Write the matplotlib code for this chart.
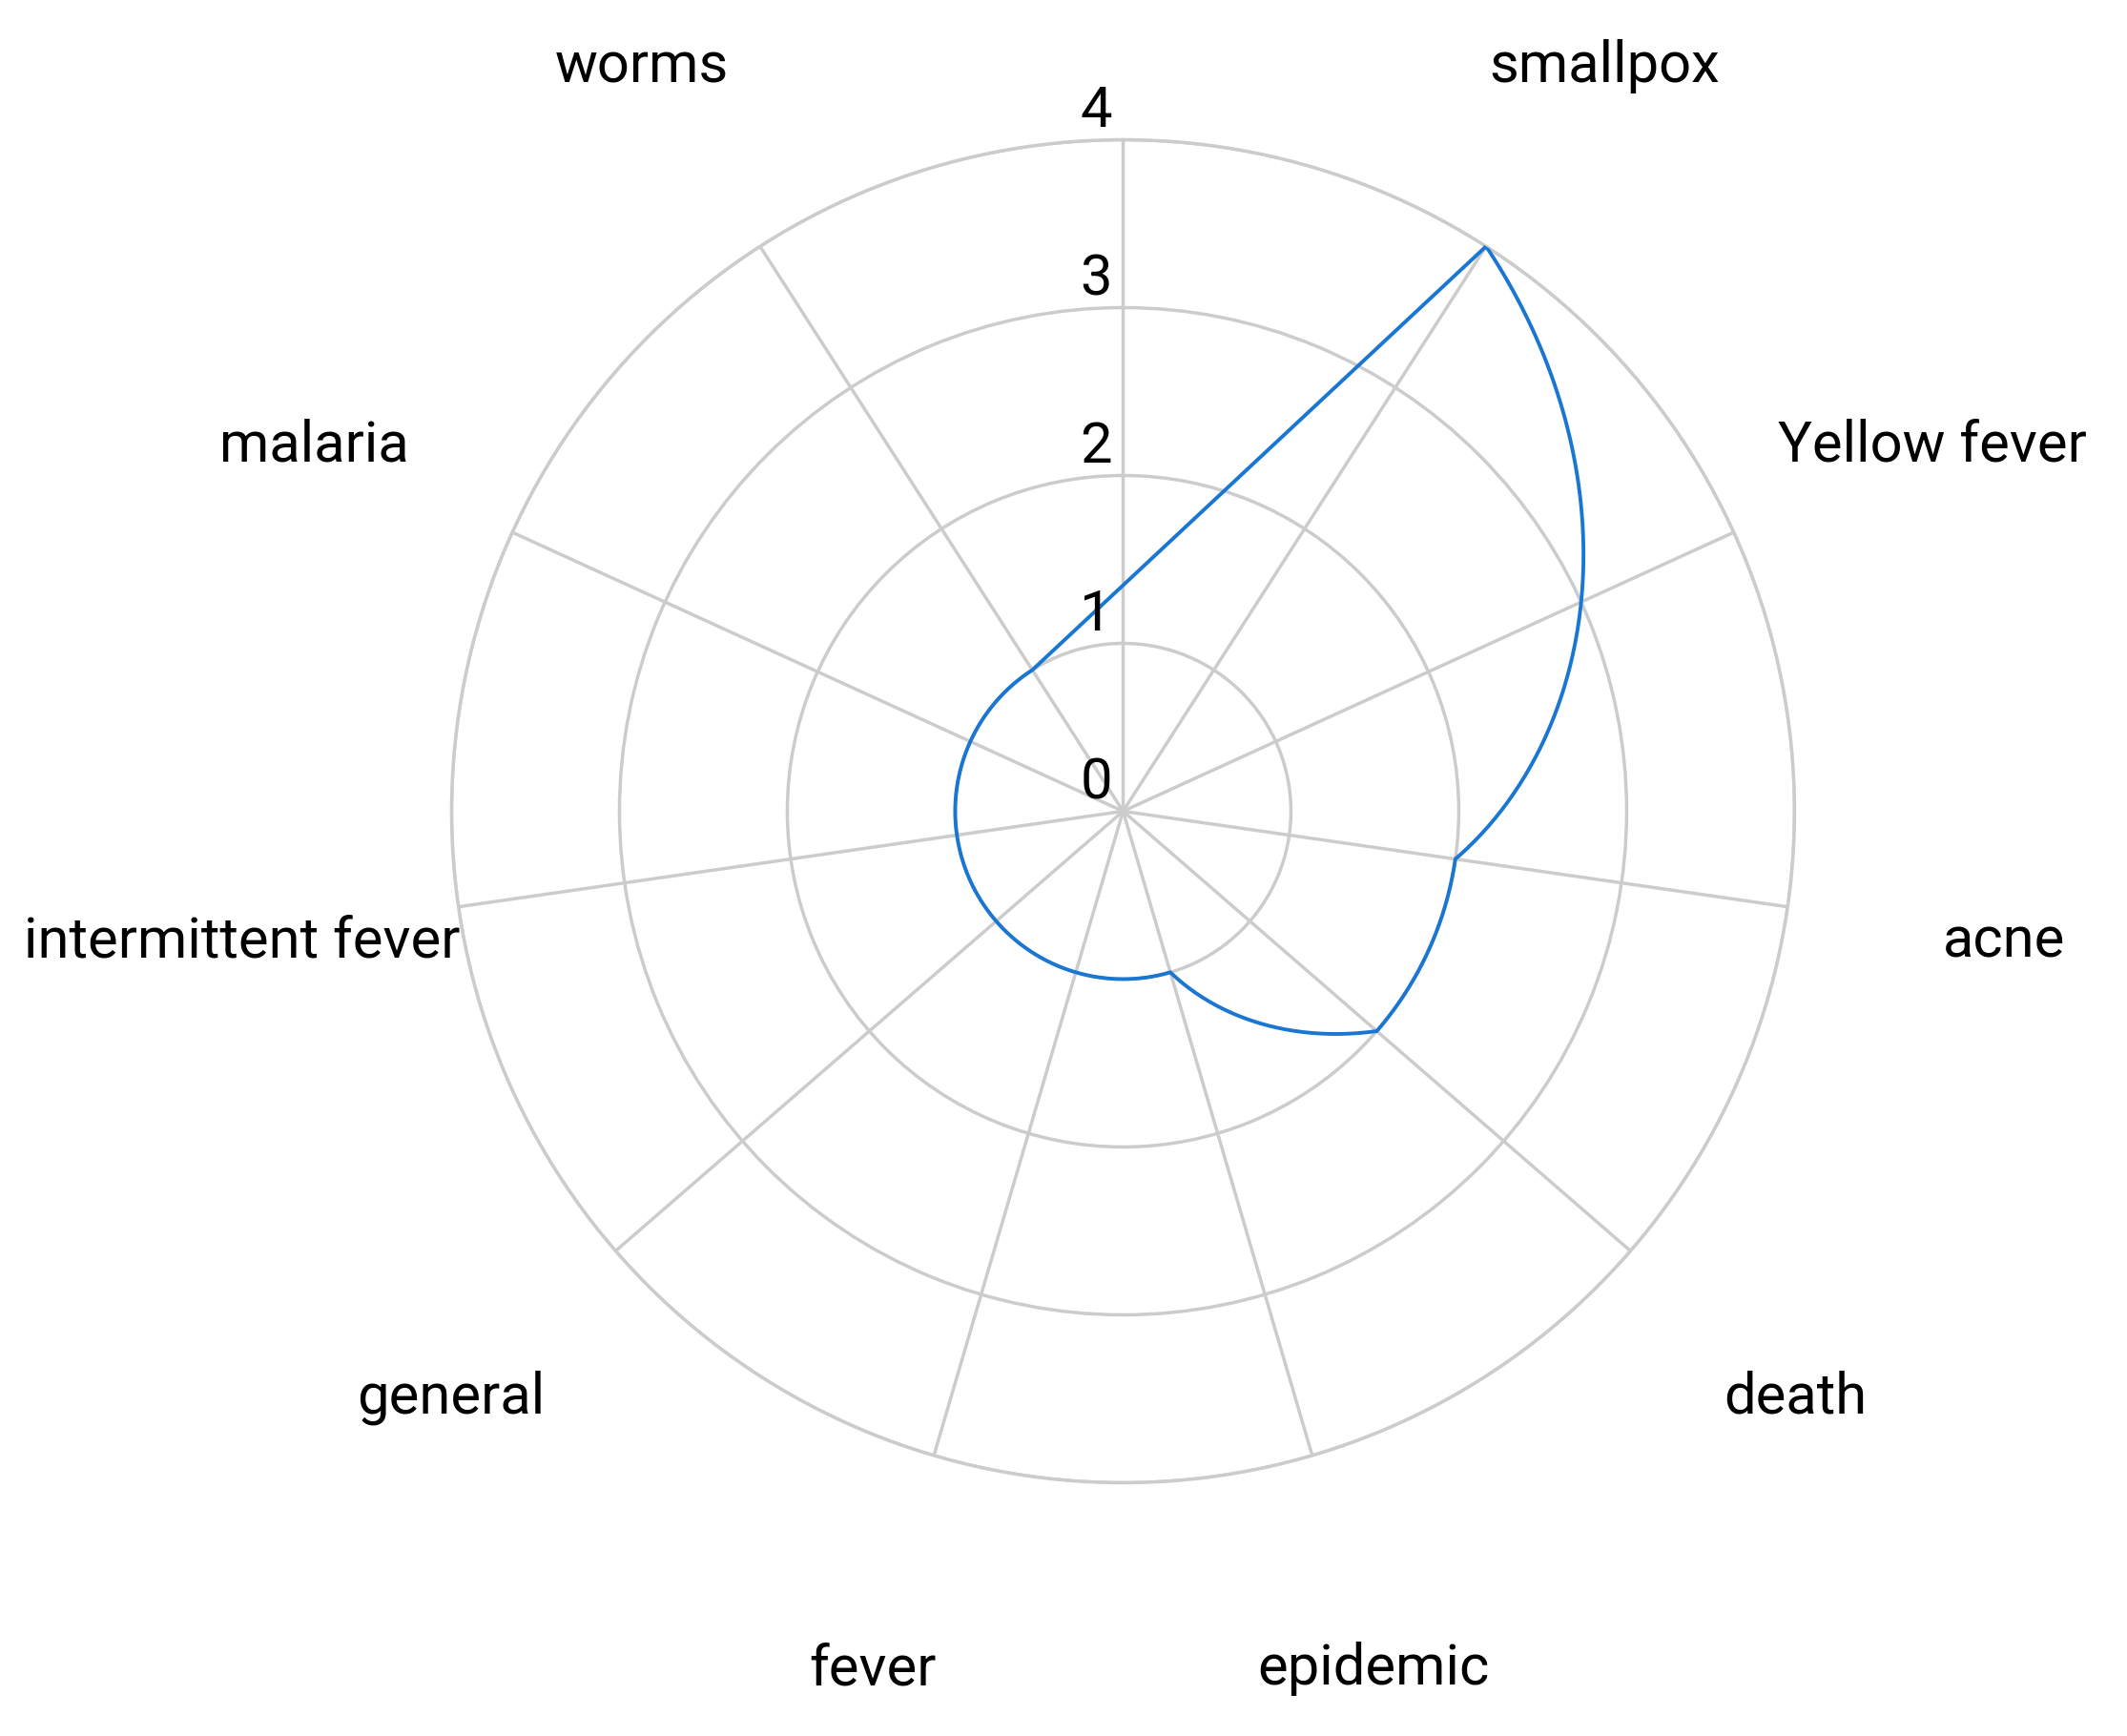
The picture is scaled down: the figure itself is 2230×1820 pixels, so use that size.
import numpy as np
import matplotlib.pyplot as plt

# categories around the radar (first spoke has no label / no value)
categories = ["", "smallpox", "Yellow fever", "acne", "death", "epidemic",
              "fever", "general", "intermittent fever", "malaria", "worms"]
values = [np.nan, 4, 3, 2, 2, 1, 1, 1, 1, 1, 1]
r_ticks = [0, 1, 2, 3, 4]

plt.rcParams["font.family"] = ["Roboto", "DejaVu Sans"]

GRID = "#cccccc"
BLUE = "#1976d2"


def build_path(theta, vals):
    # segments between neighbours are straight in (theta, r),
    # the closing segment across the empty spoke is a straight chord
    ok = ~np.isnan(vals)
    t_ok, v_ok = theta[ok], vals[ok]
    ts, rs = [], []
    for i in range(len(t_ok) - 1):
        ts.append(np.linspace(t_ok[i], t_ok[i + 1], 80))
        rs.append(np.linspace(v_ok[i], v_ok[i + 1], 80))
    s = np.linspace(0, 1, 80)
    x = (1 - s) * v_ok[-1] * np.cos(t_ok[-1]) + s * v_ok[0] * np.cos(t_ok[0])
    y = (1 - s) * v_ok[-1] * np.sin(t_ok[-1]) + s * v_ok[0] * np.sin(t_ok[0])
    ts.append(np.arctan2(y, x))
    rs.append(np.hypot(x, y))
    return np.unwrap(np.concatenate(ts)), np.concatenate(rs)


def main():
    n = len(categories)
    theta = np.arange(n) * 2 * np.pi / n

    fig = plt.figure(figsize=(22.3, 18.2), dpi=100)
    ax = fig.add_axes([0.2123, 0.1459, 0.6314, 0.7736], projection="polar")
    ax.set_theta_zero_location("N")
    ax.set_theta_direction(-1)
    ax.set_ylim(0, 4)

    ax.set_thetagrids(np.degrees(theta), labels=[""] * n)
    ax.set_rgrids(r_ticks[1:], labels=[""] * (len(r_ticks) - 1))
    ax.grid(color=GRID, linewidth=2.5)
    ax.spines["polar"].set_color(GRID)
    ax.spines["polar"].set_linewidth(2.5)
    ax.tick_params(length=0)

    t_line, r_line = build_path(theta, np.array(values, dtype=float))
    ax.plot(t_line, r_line, color=BLUE, linewidth=2.8, zorder=5)

    for t, lab in zip(theta, categories):
        ax.annotate(lab, xy=(t, 5.3), xytext=(0, -3),
                    textcoords="offset points", ha="center", va="center",
                    fontsize=43, annotation_clip=False)

    for r in r_ticks:
        ax.annotate(str(r), xy=(0, r), xytext=(-20.5, 21.5),
                    textcoords="offset points", ha="center", va="center",
                    fontsize=43, zorder=6)

    fig.savefig("out.png", dpi=100, facecolor="white")


if __name__ == "__main__":
    main()
